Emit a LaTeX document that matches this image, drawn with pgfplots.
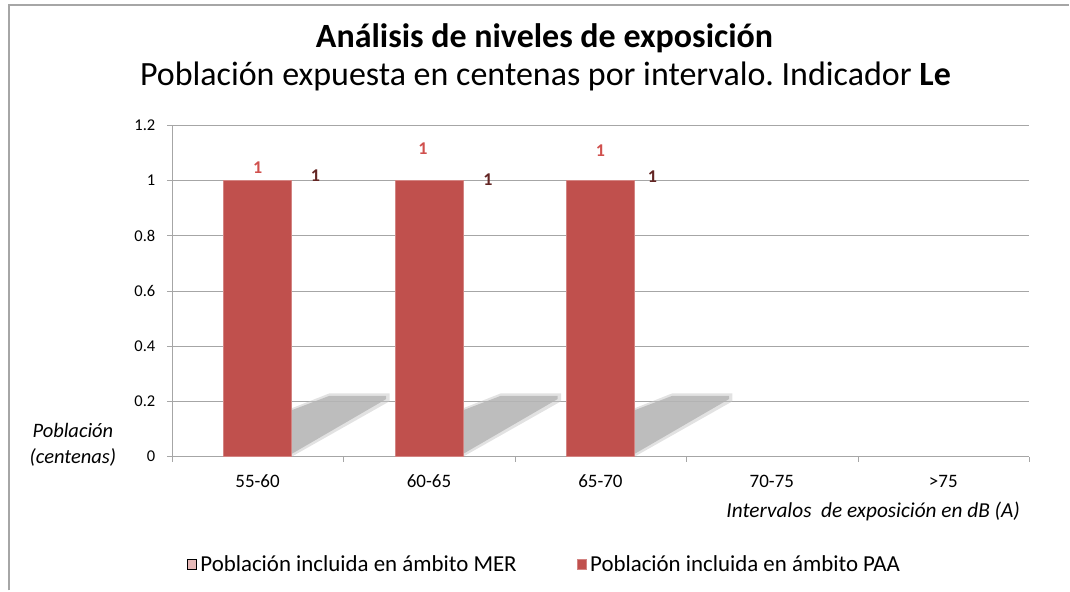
\documentclass[border=0pt]{standalone}
\usepackage{fontspec}
\setmainfont{Carlito}
\usepackage{pgfplots}
\usepackage{pgfplotstable}
\pgfplotsset{compat=1.18}
\definecolor{paa}{HTML}{C0504D}
\definecolor{mer}{HTML}{E6B9B8}
\definecolor{lblred}{HTML}{D0504D}
\definecolor{lbldark}{HTML}{632523}
\definecolor{gridc}{HTML}{A6A6A6}
\frenchspacing

% PAA: x = category index, y = value; dx, dy = label offsets (pt)
\pgfplotstableread{
x y dx dy
0 1 0 13
1 1 -6 32
2 1 0 30
}\paa
% MER: labels only (bars not visible in the chart)
\pgfplotstableread{
x y dx dy
0 1 58 5
1 1 59 1
2 1 52 4
}\mer

\begin{document}
\begin{tikzpicture}
\path (0pt,0pt) rectangle (1070pt,591pt);
\draw[gridc, line width=2pt] (9pt,0pt) -- (9pt,585.5pt) -- (1070pt,585.5pt);

\node[font=\bfseries\fontsize{34}{38}\selectfont] at (545pt,553pt) {Análisis de niveles de exposición};
\node[font=\fontsize{34}{38}\selectfont] at (546pt,514pt) {Población expuesta en centenas por intervalo. Indicador \textbf{Le}};

\node[font=\itshape\fontsize{20.5}{26}\selectfont, align=center] at (73pt,146pt) {Población\\(centenas)};

\begin{axis}[
  at={(172pt,134pt)}, anchor=south west,
  scale only axis, width=858pt, height=332pt,
  xmin=-0.5, xmax=4.5, ymin=0, ymax=1.2,
  axis lines*=left,
  axis line style={gridc, -},
  ymajorgrids, grid style={gridc},
  ytick={0,0.2,0.4,0.6,0.8,1,1.2},
  yticklabel style={font=\fontsize{16.5}{18}\selectfont, xshift=-8pt},
  /pgf/number format/assume math mode=true,
  tick align=outside, major tick length=5pt,
  tick style={gridc},
  xtick={-0.5,0.5,1.5,2.5,3.5,4.5},
  xticklabels={},
  extra x ticks={0,1,2,3,4},
  extra x tick labels={55-60,60-65,65-70,70-75,>75},
  extra x tick style={major tick length=0pt, grid=none,
     xticklabel style={font=\fontsize{19}{21}\selectfont, yshift=-15pt}},
  legend style={at={(0.014,-0.325)}, anchor=west, draw=none, fill=none,
     legend columns=2, font=\fontsize{22.9}{25}\selectfont,
     /tikz/every even column/.append style={column sep=58pt}},
  legend image code/.code={\fill[#1] (0pt,-5pt) rectangle (9pt,5pt);},
]
% shadows
\pgfplotsinvokeforeach{0,1,2}{
  \fill[gray!45, opacity=0.5] (axis cs:#1+0.2,0.0) -- (axis cs:#1+0.2,0.175) -- (axis cs:#1+0.42,0.229) -- (axis cs:#1+0.77,0.229) -- (axis cs:#1+0.77,0.2) -- cycle;
  \fill[gray!60, opacity=0.75] (axis cs:#1+0.2,0.01) -- (axis cs:#1+0.2,0.168) -- (axis cs:#1+0.42,0.22) -- (axis cs:#1+0.75,0.22) -- (axis cs:#1+0.75,0.208) -- cycle;
}
\addlegendimage{fill=mer}
\addlegendentry{\hspace{2pt}Población incluida en ámbito MER}
\addplot[ybar, bar width=68pt, fill=paa, draw=paa!70!white,
  visualization depends on={\thisrow{dx} \as \dx},
  visualization depends on={\thisrow{dy} \as \dy},
  nodes near coords,
  every node near coord/.append style={anchor=center, xshift=\dx pt, yshift=\dy pt,
     font=\bfseries\fontsize{18}{18}\selectfont, text=lblred},
] table[x=x, y=y] {\paa};
\addlegendentry{\hspace{2pt}Población incluida en ámbito PAA}
\addplot[ybar, bar width=1pt, draw=none, fill=none, forget plot,
  visualization depends on={\thisrow{dx} \as \dx},
  visualization depends on={\thisrow{dy} \as \dy},
  nodes near coords,
  every node near coord/.append style={anchor=center, xshift=\dx pt, yshift=\dy pt,
     font=\bfseries\fontsize{18}{18}\selectfont, text=lbldark},
] table[x=x, y=y] {\mer};
\end{axis}

\node[font=\itshape\fontsize{21.3}{24}\selectfont] at (874pt,79pt) {Intervalos\ \ de exposición en dB (A)};
\end{tikzpicture}
\end{document}
